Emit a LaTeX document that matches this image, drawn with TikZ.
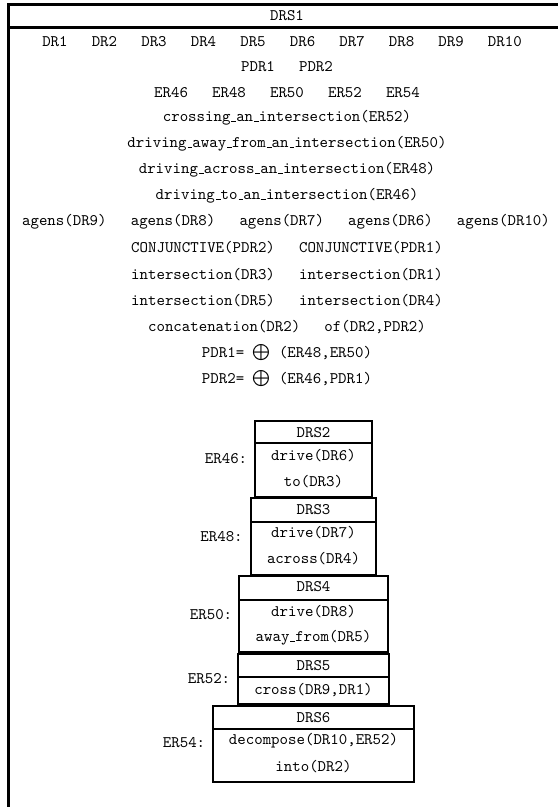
\documentclass[tikz,border=0pt]{standalone}
\newcommand\us{\leavevmode\kern.06em\vbox{\hrule width.3em}}
\newcommand\gp{\hspace{15pt}}
\begin{document}
\begin{tikzpicture}[x=0.621pt,y=-0.621pt,
  txt/.style={font=\ttfamily, inner sep=0pt},
  frame/.style={line width=1.3pt},
  boxline/.style={line width=1.1pt}]
\useasboundingbox (0,0) rectangle (558,807);
% outer frame
\draw[frame] (558,4.5) -- (8.5,4.5) -- (8.5,807);
\draw[frame] (8.5,27.5) -- (558,27.5);
\node[txt] (drs1) at (287,16) {DRS1};
% universe and conditions
\node[txt] (r1) at (282,42) {DR1\gp DR2\gp DR3\gp DR4\gp DR5\gp DR6\gp DR7\gp DR8\gp DR9\gp DR10};
\node[txt] (r2) at (287,67) {PDR1\gp PDR2};
\node[txt] (r3) at (287,93) {ER46\gp ER48\gp ER50\gp ER52\gp ER54};
\node[txt] (r4) at (287,118) {crossing\us an\us intersection(ER52)};
\node[txt] (r5) at (287,144) {driving\us away\us from\us an\us intersection(ER50)};
\node[txt] (r6) at (287,170) {driving\us across\us an\us intersection(ER48)};
\node[txt] (r7) at (287,196) {driving\us to\us an\us intersection(ER46)};
\node[txt] (r8) at (286,222) {agens(DR9)\gp agens(DR8)\gp agens(DR7)\gp agens(DR6)\gp agens(DR10)};
\node[txt] (r9) at (287,248) {CONJUNCTIVE(PDR2)\gp CONJUNCTIVE(PDR1)};
\node[txt] (r10) at (287,275) {intersection(DR3)\gp intersection(DR1)};
\node[txt] (r11) at (287,301) {intersection(DR5)\gp intersection(DR4)};
\node[txt] (r12) at (287,327) {concatenation(DR2)\gp of(DR2,PDR2)};
\node[txt] (r13) at (287,353) {PDR1=~$\bigoplus$~(ER48,ER50)};
\node[txt] (r14) at (287,379) {PDR2=~$\bigoplus$~(ER46,PDR1)};
% DRS2
\draw[boxline] (255,421) rectangle (372,497);
\draw[boxline] (255,443) -- (372,443);
\node[txt] (drs2) at (313.5,433) {DRS2};
\node[txt] (c21) at (313.5,456) {drive(DR6)};
\node[txt] (c22) at (313.5,482) {to(DR3)};
\node[txt,anchor=east] (er46) at (247.5,459) {ER46:};
% DRS3
\draw[boxline] (251,498) rectangle (376,575);
\draw[boxline] (251,522) -- (376,522);
\node[txt] (drs3) at (313.5,510) {DRS3};
\node[txt] (c31) at (313.5,533) {drive(DR7)};
\node[txt] (c32) at (313.5,559) {across(DR4)};
\node[txt,anchor=east] (er48) at (243,537) {ER48:};
% DRS4
\draw[boxline] (239,576) rectangle (388,652);
\draw[boxline] (239,600) -- (388,600);
\node[txt] (drs4) at (313.5,587) {DRS4};
\node[txt] (c41) at (313.5,612) {drive(DR8)};
\node[txt] (c42) at (313.5,638) {away\us from(DR5)};
\node[txt,anchor=east] (er50) at (232.5,615) {ER50:};
% DRS5
\draw[boxline] (238,654) rectangle (389,704);
\draw[boxline] (238,677) -- (389,677);
\node[txt] (drs5) at (313.5,666) {DRS5};
\node[txt] (c51) at (313.5,690) {cross(DR9,DR1)};
\node[txt,anchor=east] (er52) at (230.5,679) {ER52:};
% DRS6
\draw[boxline] (213,706) rectangle (414,782);
\draw[boxline] (213,729) -- (414,729);
\node[txt] (drs6) at (313.5,718) {DRS6};
\node[txt] (c61) at (313.5,741) {decompose(DR10,ER52)};
\node[txt] (c62) at (313.5,767) {into(DR2)};
\node[txt,anchor=east] (er54) at (205.5,743) {ER54:};
\end{tikzpicture}
\end{document}
